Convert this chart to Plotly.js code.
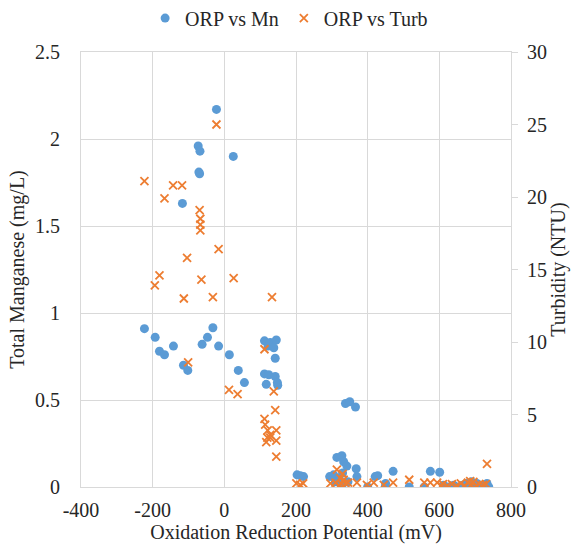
<!DOCTYPE html>
<html>
<head>
<meta charset="utf-8">
<script src="https://cdn.plot.ly/plotly-3.0.1.min.js"></script>
<style>html,body{margin:0;padding:0;background:#fff;}#chart{width:578px;height:544px;}</style>
</head>
<body>
<div id="chart"></div>
<script>
var mnORP = [-22,-73,-68,-71,-69,25,-117,-223,-193,-181,-167,-142,-114,-102,-62,-47,-32,-16,14,39,56,112,122,128,145,138,142,112,124,142,117,149,148,338,350,366,203,212,221,294,305,314,328,333,342,330,320,368,370,421,428,471,575,601,328,400,449,516,558,612,625,640,652,665,675,683,690,697,705,715,725,733,738,310,345,450];
var mnVal = [2.17,1.96,1.93,1.81,1.80,1.90,1.63,0.91,0.86,0.78,0.76,0.81,0.70,0.67,0.82,0.86,0.915,0.81,0.76,0.67,0.60,0.84,0.81,0.83,0.845,0.80,0.74,0.65,0.645,0.635,0.59,0.585,0.60,0.48,0.49,0.46,0.07,0.065,0.06,0.06,0.07,0.17,0.18,0.145,0.12,0.08,0.05,0.105,0.06,0.06,0.065,0.09,0.09,0.085,0.0,0.0,0.0,0.0,0.0,0.01,0.0,0.01,0.0,0.01,0.02,0.0,0.03,0.01,0.02,0.0,0.01,0.02,0.0,0.03,0.03,0.02];
var turbORP = [-22,-223,-143,-118,-167,-69,-67,-67,-67,-16,-104,-181,-194,-64,26,-113,-32,133,-101,13,37,112,138,142,112,114,121,128,145,117,145,128,120,145,201,212,220,296,314,310,324,330,320,338,345,370,398,417,445,471,516,558,575,594,733,610,622,635,648,660,670,680,688,695,703,712,722,730,333,327,605,686];
var turbVal = [25.0,21.1,20.8,20.8,19.9,19.1,18.5,18.1,17.7,16.4,15.8,14.6,13.9,14.3,14.4,13.0,13.1,13.1,8.6,6.7,6.4,9.5,6.6,5.3,4.7,4.3,3.9,3.6,3.9,3.1,3.2,3.4,3.4,2.1,0.25,0.15,0.25,0.25,1.2,0.3,0.6,0.9,0.1,0.25,0.3,0.3,0.15,0.3,0.15,0.3,0.5,0.3,0.3,0.3,1.6,0.2,0.1,0.2,0.1,0.25,0.1,0.3,0.15,0.35,0.1,0.2,0.15,0.2,0.5,0.2,0.1,0.4];
var seriesNames = ['ORP vs Mn', 'ORP vs Turb'];
var xTickVals = [-400, -200, 0, 200, 400, 600, 800];
var xTickText = ['-400', '-200', '0', '200', '400', '600', '800'];

var fontFam = 'Liberation Serif';
var fs = 20;
var grid = '#d9d9d9';
var txt = '#262626';
var clear = 'rgba(0,0,0,0)';

var traces = [
  {x: mnORP, y: mnVal, name: seriesNames[0], type: 'scatter', mode: 'markers',
   marker: {color: '#5B9BD5', size: 9, symbol: 'circle'}, yaxis: 'y'},
  {x: turbORP, y: turbVal, name: seriesNames[1], type: 'scatter', mode: 'markers',
   marker: {color: '#ED7D31', size: 8, symbol: 'x-thin', line: {color: '#ED7D31', width: 1.8}}, yaxis: 'y2'}
];

var layout = {
  width: 578, height: 544,
  margin: {l: 81, r: 67, t: 52, b: 57, autoexpand: false},
  paper_bgcolor: '#fff', plot_bgcolor: '#fff',
  font: {family: fontFam, size: fs, color: txt},
  showlegend: true,
  legend: {orientation: 'h', x: 0.484, xanchor: 'center', y: 1.078, yanchor: 'middle',
           font: {family: fontFam, size: fs, color: txt}, itemwidth: 20, tracegroupgap: 0},
  xaxis: {range: [-400, 800], tickmode: 'array', tickvals: xTickVals, ticktext: xTickText,
          showgrid: true, gridcolor: grid, gridwidth: 1,
          zeroline: false, showline: true, linecolor: grid, linewidth: 1, mirror: true,
          ticks: 'outside', ticklen: 5, tickcolor: clear,
          title: {text: 'Oxidation Reduction Potential (mV)', font: {family: fontFam, size: fs, color: txt}, standoff: 3},
          tickfont: {family: fontFam, size: fs, color: txt}},
  yaxis: {range: [0, 2.5], dtick: 0.5, showgrid: true, gridcolor: grid, gridwidth: 1, zeroline: false,
          showline: true, linecolor: grid, linewidth: 1, ticks: 'outside', ticklen: 16, tickcolor: clear,
          title: {text: 'Total Manganese (mg/L)', font: {family: fontFam, size: fs, color: txt}, standoff: 5},
          tickfont: {family: fontFam, size: fs, color: txt}},
  yaxis2: {range: [0, 30], dtick: 5, overlaying: 'y', side: 'right', showgrid: false, zeroline: false,
           showline: true, linecolor: grid, linewidth: 1, ticks: 'outside', ticklen: 6, tickcolor: grid,
           ticklabelstandoff: 5,
           title: {text: 'Turbidity (NTU)', font: {family: fontFam, size: fs, color: txt}, standoff: 0},
           tickfont: {family: fontFam, size: fs, color: txt}}
};

Plotly.newPlot('chart', traces, layout, {displayModeBar: false, staticPlot: true});
</script>
</body>
</html>
